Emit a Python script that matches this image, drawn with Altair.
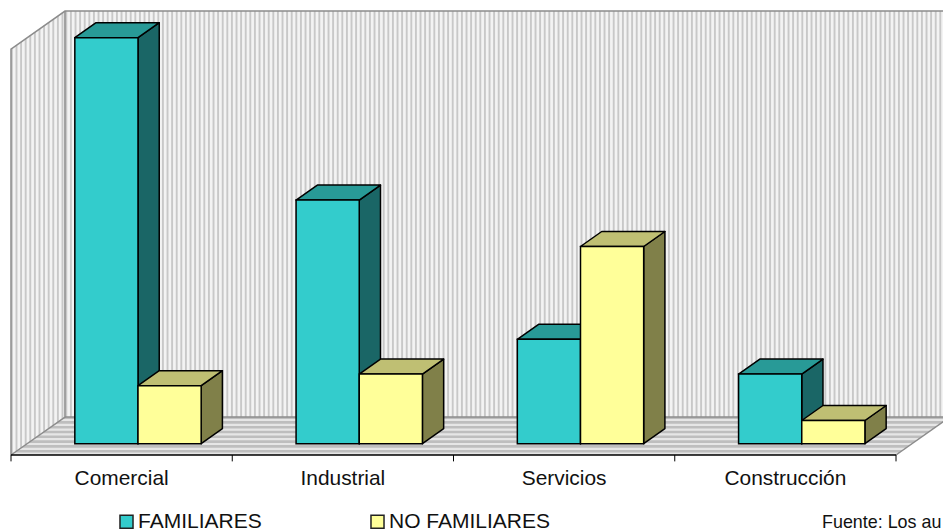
import altair as alt
import numpy as np
import pandas as pd

# Chart values
categories = ["Comercial", "Industrial", "Servicios", "Construcción"]
familiares = [35, 21, 9, 6]
no_familiares = [5, 6, 17, 2]
series_names = ["FAMILIARES", "NO FAMILIARES"]

FONT = "Liberation Sans"

# Scales: x counts category slots, y is the value axis
SLOT = 221.25
UNIT = 11.6
BASE_PX = 443.7
xs = alt.Scale(domain=[-11 / SLOT, (943 - 11) / SLOT], nice=False, zero=False)
ys = alt.Scale(domain=[(BASE_PX - 531) / UNIT, BASE_PX / UNIT], nice=False, zero=False)


def X(field="x"):
    return alt.X(f"{field}:Q", scale=xs, axis=None, title=None)


def Y(field="y"):
    return alt.Y(f"{field}:Q", scale=ys, axis=None, title=None)


# 3D box and room proportions, in slot and value units
BAR_W = 0.2855
BAR_GAP = 0.2885
BAR_DX = 0.096
BAR_DY = 1.293
ROOM_DX = 0.244
ROOM_DY = 3.276
FLOOR_Y = -0.974
WALL_TOP = 37.3
RIGHT_EDGE = (943 - 11) / SLOT

# Boxes: one row per bar
rows = []
for i, c in enumerate(categories):
    for j, (name, vals) in enumerate(zip(series_names, (familiares, no_familiares))):
        rows.append(dict(cat=c, series=name, j=j, v=vals[i],
                         x0=i + BAR_GAP + j * BAR_W, x1=i + BAR_GAP + (j + 1) * BAR_W))
bars = pd.DataFrame(rows)

side_rows, top_rows = [], []
for r in rows:
    key = f"{r['cat']}-{r['j']}"
    for k in (0, 1):
        side_rows.append(dict(key=key, j=r["j"], x=r["x1"] + k * BAR_DX,
                              y=k * BAR_DY, y2=r["v"] + k * BAR_DY))
        top_rows.append(dict(key=key, j=r["j"], y=r["v"] + k * BAR_DY,
                             x=r["x0"] + k * BAR_DX, x2=r["x1"] + k * BAR_DX))
sides = pd.DataFrame(side_rows)
tops = pd.DataFrame(top_rows)

side_colors = ["#1A6666", "#808049"]
top_colors = ["#289A97", "#BFBF73"]
front_colors = ["#33CCCC", "#FFFF99"]

box_layers = []
for j in (0, 1):
    box_layers.append(
        alt.Chart(sides[sides.j == j]).mark_area(
            orient="vertical", fill=side_colors[j], stroke="black", strokeWidth=1.5,
            strokeJoin="round"
        ).encode(x=X(), y=Y(), y2="y2:Q", detail="key:N")
    )
    box_layers.append(
        alt.Chart(tops[tops.j == j]).mark_area(
            orient="horizontal", fill=top_colors[j], stroke="black", strokeWidth=1.5,
            strokeJoin="round"
        ).encode(y=Y(), x=X(), x2="x2:Q", detail="key:N")
    )

fronts = alt.Chart(bars).mark_rect(stroke="black", strokeWidth=1.5).encode(
    x=X("x0"), x2="x1:Q", y=alt.Y("zero:Q", scale=ys, axis=None, title=None), y2="v:Q",
    color=alt.Color("series:N",
                    scale=alt.Scale(domain=series_names, range=front_colors),
                    legend=alt.Legend(
                        title=None, orient="none", legendX=116, legendY=511,
                        direction="horizontal", columns=2, columnPadding=105,
                        symbolType="square", symbolSize=170, symbolStrokeColor="#222222",
                        symbolStrokeWidth=1.5, symbolOpacity=1, labelFont=FONT,
                        labelFontSize=21, labelColor="#111111", labelOffset=1,
                        labelLimit=300)),
).transform_calculate(zero="0")

# Room: back wall, side wall and floor, each with its own stripes
wall_xs = np.arange(ROOM_DX + 0.006, RIGHT_EDGE, 4.6 / SLOT)
back_stripes = pd.DataFrame({"x": wall_xs, "y": FLOOR_Y + ROOM_DY, "y2": WALL_TOP})

side_xs = np.arange(0.004, ROOM_DX, 4.6 / SLOT)
side_stripes = pd.DataFrame({
    "x": side_xs,
    "y": FLOOR_Y + side_xs / ROOM_DX * ROOM_DY,
    "y2": WALL_TOP - ROOM_DY + side_xs / ROOM_DX * ROOM_DY,
})

floor_ys = np.arange(FLOOR_Y + 0.12, FLOOR_Y + ROOM_DY - 0.2, 4.8 / UNIT)
floor_stripes = pd.DataFrame({
    "y": floor_ys,
    "x": (floor_ys - FLOOR_Y) / ROOM_DY * ROOM_DX,
    "x2": 4 + (floor_ys - FLOOR_Y) / ROOM_DY * ROOM_DX,
})

back_wall = alt.Chart(pd.DataFrame([dict(x=ROOM_DX, x2=RIGHT_EDGE, y=FLOOR_Y + ROOM_DY, y2=WALL_TOP)])
                      ).mark_rect(fill="#F3F3F3").encode(x=X(), x2="x2:Q", y=Y(), y2="y2:Q")
back_lines = alt.Chart(back_stripes).mark_rule(color="#C8C8C8", strokeWidth=1.9).encode(
    x=X(), y=Y(), y2="y2:Q")

side_wall = alt.Chart(pd.DataFrame([
    dict(x=0, y=FLOOR_Y, y2=WALL_TOP - ROOM_DY),
    dict(x=ROOM_DX, y=FLOOR_Y + ROOM_DY, y2=WALL_TOP),
])).mark_area(orient="vertical", fill="#F3F3F3").encode(x=X(), y=Y(), y2="y2:Q")
side_lines = alt.Chart(side_stripes).mark_rule(color="#C8C8C8", strokeWidth=1.9).encode(
    x=X(), y=Y(), y2="y2:Q")

floor = alt.Chart(pd.DataFrame([
    dict(y=FLOOR_Y, x=0, x2=4),
    dict(y=FLOOR_Y + ROOM_DY, x=ROOM_DX, x2=4 + ROOM_DX),
])).mark_area(orient="horizontal", fill="#BEBEBE").encode(y=Y(), x=X(), x2="x2:Q")
floor_lines = alt.Chart(floor_stripes).mark_rule(color="#E6E6E6", strokeWidth=2.2).encode(
    y=Y(), x=X(), x2="x2:Q")

# Grey outlines of the room
outline_paths = pd.DataFrame([
    dict(path=0, o=0, x=0, y=FLOOR_Y),
    dict(path=0, o=1, x=0, y=WALL_TOP - ROOM_DY),
    dict(path=0, o=2, x=ROOM_DX, y=WALL_TOP),
    dict(path=0, o=3, x=RIGHT_EDGE, y=WALL_TOP),
    dict(path=1, o=0, x=ROOM_DX, y=WALL_TOP),
    dict(path=1, o=1, x=ROOM_DX, y=FLOOR_Y + ROOM_DY),
    dict(path=1, o=2, x=0, y=FLOOR_Y),
    dict(path=2, o=0, x=ROOM_DX, y=FLOOR_Y + ROOM_DY),
    dict(path=2, o=1, x=RIGHT_EDGE, y=FLOOR_Y + ROOM_DY),
    dict(path=3, o=0, x=4, y=FLOOR_Y),
    dict(path=3, o=1, x=4 + ROOM_DX, y=FLOOR_Y + ROOM_DY),
])
outlines = alt.Chart(outline_paths).mark_line(color="#8C8C8C", strokeWidth=1.5).encode(
    x=X(), y=Y(), order="o:Q", detail="path:N")

# Category axis
baseline = alt.Chart(pd.DataFrame([dict(x=0, x2=4, y=FLOOR_Y)])).mark_rule(
    color="black", strokeWidth=1.5).encode(x=X(), x2="x2:Q", y=Y())
ticks = alt.Chart(pd.DataFrame({"x": range(5), "y": FLOOR_Y, "y2": FLOOR_Y - 0.55})).mark_rule(
    color="black", strokeWidth=1).encode(x=X(), y=Y(), y2="y2:Q")
labels = alt.Chart(pd.DataFrame({"x": [i + 0.5 for i in range(4)], "y": -3.04, "t": categories})
                   ).mark_text(font=FONT, fontSize=20.9, color="#111111", align="center",
                               baseline="middle").encode(x=X(), y=Y(), text="t:N")

source = alt.Chart(pd.DataFrame({"t": ["Fuente: Los au"]})).mark_text(
    font=FONT, fontSize=17.9, color="#111111", align="left", baseline="middle"
).encode(x=alt.value(822), y=alt.value(523), text="t:N")

chart = alt.layer(
    back_wall, back_lines, side_wall, side_lines, floor, floor_lines, outlines,
    baseline, ticks, *box_layers, fronts, labels, source
).properties(
    width=943, height=531, padding=0, background="white",
    autosize=alt.AutoSizeParams(type="none", contains="content"),
).configure_view(stroke=None)

chart.save("out.html", embed_options={"renderer": "svg", "actions": False})
